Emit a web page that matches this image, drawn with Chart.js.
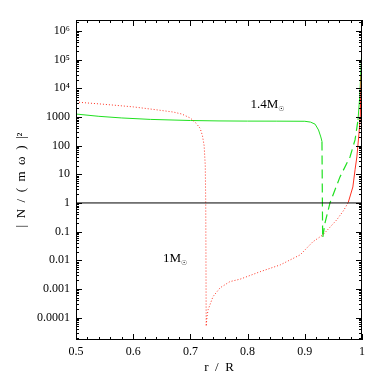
<!DOCTYPE html>
<html>
<head>
<meta charset="utf-8">
<script src="https://cdn.jsdelivr.net/npm/chart.js@4/dist/chart.umd.min.js"></script>
<style>
  html, body { margin: 0; padding: 0; background: #fff; }
</style>
</head>
<body>
<canvas id="bv" width="382" height="382"></canvas>
<script>
// 1 Msun model, dotted part (radiative interior)
var rRedDotted = [0.50, 0.55, 0.60, 0.64, 0.67, 0.685, 0.70, 0.710, 0.717, 0.721, 0.724, 0.726, 0.7268, 0.7272, 0.7276,
                  0.729, 0.731, 0.7395, 0.752, 0.769, 0.787, 0.822, 0.857, 0.892, 0.914, 0.932, 0.956, 0.968, 0.976];
var nRedDotted = [3300, 2750, 2240, 1780, 1480, 1260, 910, 600, 400, 224, 100, 20, 1, 0.01, 5e-5,
                  1.1e-4, 1.9e-4, 5.4e-4, 1.1e-3, 1.8e-3, 2.2e-3, 4.0e-3, 6.9e-3, 0.0155, 0.044, 0.078, 0.26, 0.55, 1.05];
// 1 Msun, near-surface part
var rRedSolid = [0.976, 0.984, 0.988, 0.991, 0.9948, 0.997, 0.9985, 0.9993, 1.0];
var nRedSolid = [1.05, 3.6, 15, 40, 275, 1000, 3e4, 1e6, 3e6];

// 1.4 Msun model
var rGreenSolid = [0.50, 0.54, 0.58, 0.63, 0.70, 0.75, 0.80, 0.85, 0.90, 0.910, 0.918, 0.924, 0.928, 0.930];
var nGreenSolid = [1260, 1050, 920, 820, 750, 725, 715, 712, 705, 660, 560, 350, 200, 140];
var rGreenDashed = [0.930, 0.9312, 0.9353, 0.944, 0.9615, 0.979, 0.9878, 0.993];
var nGreenDashed = [140, 0.059, 0.2, 1.0, 8.1, 40, 158, 776];
var rGreenSurface = [0.993, 0.996, 0.998, 0.9993, 1.0];
var nGreenSurface = [776, 5000, 4e4, 1.5e5, 2.5e5];

var rUnity = [0.5, 1.0];
var nUnity = [1, 1];

var yTicks = [1e-4, 1e-3, 0.01, 0.1, 1, 10, 100, 1000, 1e4, 1e5, 1e6];
var yTickLabels = ['0.0001', '0.001', '0.01', '0.1', '1', '10', '100', '1000', '10\u2074', '10\u2075', '10\u2076'];

var SERIF = '"Liberation Serif", "DejaVu Serif", serif';

function pts(xs, ys){
    return xs.map(function(x, i){ return { x: x, y: ys[i] }; });
}

function line(data, color, dash, width){
    return {
        data: data,
        showLine: true,
        borderColor: color,
        borderWidth: width || 1,
        borderDash: dash || [],
        pointRadius: 0,
        fill: false,
        tension: 0
    };
}

// frame + inward tick marks on all four sides, and the two mass labels
var framePlugin = {
    id: 'frame',
    afterDatasetsDraw: function(chart){
        var c = chart.ctx, a = chart.chartArea;
        var xs = chart.scales.x, ys = chart.scales.y;
        c.save();
        c.strokeStyle = '#000';
        c.lineWidth = 1;
        c.strokeRect(a.left + 0.5, a.top + 0.5, a.right - a.left - 1, a.bottom - a.top - 1);
        c.beginPath();
        for(var i = 0; i <= 25; i++){
            var v = 0.5 + i * 0.02;
            var px = Math.round(xs.getPixelForValue(v)) + 0.5;
            var len = (i % 5 === 0) ? 6 : 3;
            c.moveTo(px, a.bottom); c.lineTo(px, a.bottom - len);
            c.moveTo(px, a.top); c.lineTo(px, a.top + len);
        }
        for(var e = -5; e <= 6; e++){
            for(var m = 1; m <= 9; m++){
                var val = m * Math.pow(10, e);
                if(val < ys.min || val > ys.max) continue;
                var py = Math.round(ys.getPixelForValue(val)) + 0.5;
                var l = (m === 1) ? 6 : 3;
                c.moveTo(a.left, py); c.lineTo(a.left + l, py);
                c.moveTo(a.right, py); c.lineTo(a.right - l, py);
            }
        }
        c.stroke();

        c.fillStyle = '#000';
        c.textBaseline = 'alphabetic';
        c.textAlign = 'left';
        function massLabel(txt, r, n){
            var x = xs.getPixelForValue(r), y = ys.getPixelForValue(n);
            c.font = '13px ' + SERIF;
            c.fillText(txt, x, y);
            var w = c.measureText(txt).width;
            c.font = '7px "DejaVu Sans", sans-serif';
            c.fillText('\u2609', x + w, y + 3);
        }
        massLabel('1.4M', 0.805, Math.pow(10, 3.3));
        massLabel('1M', 0.652, Math.pow(10, -2.05));
        c.restore();
    }
};

new Chart(document.getElementById('bv'), {
    type: 'scatter',
    data: {
        datasets: [
            line(pts(rUnity, nUnity), '#000', [], 1),
            line(pts(rRedDotted, nRedDotted), '#ff3020', [1, 2], 1),
            line(pts(rRedSolid, nRedSolid), '#ff3020', [], 1),
            line(pts(rGreenSolid, nGreenSolid), '#20e020', [], 1),
            line(pts(rGreenDashed, nGreenDashed), '#20e020', [9, 5], 1.2),
            line(pts(rGreenSurface, nGreenSurface), '#20e020', [], 1)
        ]
    },
    options: {
        responsive: false,
        animation: false,
        devicePixelRatio: 1,
        layout: { padding: { top: 20, right: 20, left: 0, bottom: 0 } },
        plugins: { legend: { display: false }, tooltip: { enabled: false } },
        scales: {
            x: {
                type: 'linear',
                min: 0.5, max: 1,
                grid: { display: false, drawTicks: false },
                border: { display: false },
                ticks: {
                    stepSize: 0.1, padding: 5, color: '#000', maxRotation: 0, autoSkip: false,
                    font: { family: SERIF, size: 12 },
                    callback: function(v){ return v === 1 ? '1' : v.toFixed(1); }
                },
                title: {
                    display: true, text: 'r  /  R', color: '#000',
                    font: { family: SERIF, size: 13 },
                    padding: { top: 0, bottom: 7 }
                },
                afterFit: function(s){ s.height = 42; }
            },
            y: {
                type: 'logarithmic',
                min: 1.66e-5, max: 2.4e6,
                grid: { display: false, drawTicks: false },
                border: { display: false },
                afterBuildTicks: function(s){
                    s.ticks = yTicks.map(function(v){ return { value: v }; });
                },
                ticks: {
                    padding: 6, color: '#000', autoSkip: false,
                    font: { family: SERIF, size: 12 },
                    callback: function(v){
                        var i = yTicks.indexOf(v);
                        return i >= 0 ? yTickLabels[i] : '';
                    }
                },
                title: {
                    display: true, text: '|  N  /  (  m  \u03c9  )  |\u00b2', color: '#000',
                    font: { family: SERIF, size: 13 },
                    padding: { top: 14, bottom: 0 }
                },
                afterFit: function(s){ s.width = 76; }
            }
        }
    },
    plugins: [framePlugin]
});
</script>
</body>
</html>
